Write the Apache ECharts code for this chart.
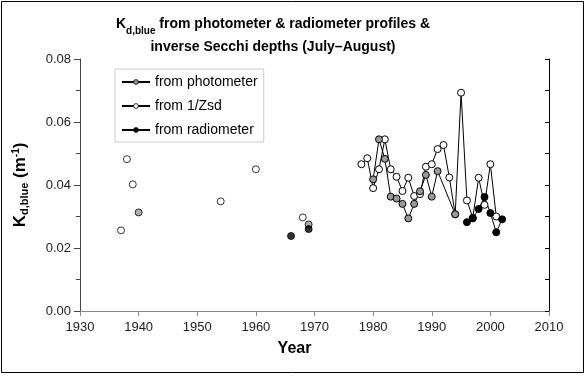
<!DOCTYPE html>
<html>
<head>
<meta charset="utf-8">
<script src="https://cdn.jsdelivr.net/npm/echarts@6/dist/echarts.min.js"></script>
<style>
html, body { margin: 0; padding: 0; background: #fff; }
#main { width: 587px; height: 378px; }
</style>
</head>
<body>
<div id="main"></div>
<script>
// values
var photoYears = [1980, 1981, 1982, 1983, 1984, 1985, 1986, 1987, 1988, 1989, 1990, 1991, 1994];
var photoVals = [0.0418, 0.0545, 0.0483, 0.0363, 0.0357, 0.0340, 0.0294, 0.0340, 0.0380, 0.0432, 0.0363, 0.0444, 0.0307];
var photoEarlyYears = [1940, 1969];
var photoEarlyVals = [0.0313, 0.0275];

var zsdYears = [1978, 1979, 1980, 1981, 1982, 1983, 1984, 1985, 1986, 1987, 1988, 1989,
                1990, 1991, 1992, 1993, 1994, 1995, 1996, 1997, 1998, 1999, 2000, 2001];
var zsdVals = [0.0466, 0.0485, 0.0390, 0.0450, 0.0545, 0.0450, 0.0426, 0.0381, 0.0423, 0.0365, 0.0371, 0.0458,
               0.0466, 0.0514, 0.0527, 0.0424, 0.0307, 0.0693, 0.0351, 0.0296, 0.0423, 0.0337, 0.0466, 0.0300];
var zsdEarlyYears = [1937, 1938, 1939, 1954, 1960, 1968];
var zsdEarlyVals = [0.0256, 0.0482, 0.0402, 0.0348, 0.0450, 0.0297];

var radioYears = [1996, 1997, 1998, 1999, 2000, 2001, 2002];
var radioVals = [0.0282, 0.0294, 0.0324, 0.0362, 0.0311, 0.0250, 0.0291];
var radioEarlyYears = [1966, 1969];
var radioEarlyVals = [0.0238, 0.0260];

var xTicks = [1930, 1940, 1950, 1960, 1970, 1980, 1990, 2000, 2010];
var yTicks = [0.00, 0.02, 0.04, 0.06, 0.08];

function pairs(xs, ys) {
    return xs.map(function (x, i) { return [x, ys[i]]; });
}

var font = 'Liberation Sans, Arial, sans-serif';

function lineSeries(name, xs, ys, fill) {
    return {
        name: name,
        type: 'line',
        data: pairs(xs, ys),
        symbol: 'circle',
        symbolSize: 7,
        showAllSymbol: true,
        lineStyle: {color: '#000', width: 1},
        itemStyle: {color: fill, borderColor: '#000', borderWidth: 1}
    };
}

function dotSeries(name, xs, ys, fill) {
    return {
        name: name,
        type: 'scatter',
        data: pairs(xs, ys),
        symbol: 'circle',
        symbolSize: 7,
        itemStyle: {color: fill, borderColor: '#000', borderWidth: 1}
    };
}

var myChart = echarts.init(document.getElementById('main'));
var option = {
    animation: false,
    textStyle: {fontFamily: font},
    title: {
        left: 268,
        textAlign: 'center',
        top: 8,
        text: '{b|K}{s|d,blue}{b| from photometer & radiometer profiles &}\n{b|inverse Secchi depths (July\u2013August)}',
        textStyle: {
            rich: {
                b: {fontSize: 14, fontWeight: 'bold', color: '#000', fontFamily: font, lineHeight: 23},
                s: {fontSize: 10, fontWeight: 'bold', color: '#000', fontFamily: font, verticalAlign: 'bottom', lineHeight: 23, padding: [6, 0, 0, 0]}
            }
        }
    },
    legend: {
        orient: 'vertical',
        left: 115,
        top: 69,
        data: ['from photometer', 'from 1/Zsd', 'from radiometer'],
        borderColor: '#ccc',
        borderWidth: 1,
        padding: [6, 6, 5, 6],
        itemWidth: 28,
        itemHeight: 6,
        itemGap: 10,
        itemStyle: {borderWidth: 0.8},
        textStyle: {fontSize: 14, color: '#000', fontFamily: font}
    },
    grid: {left: 80, right: 38, top: 59, bottom: 67},
    xAxis: [{
        type: 'value',
        min: 1930,
        max: 2010,
        interval: 10,
        name: 'Year',
        nameLocation: 'middle',
        nameGap: 30,
        nameTextStyle: {fontSize: 16, fontWeight: 'bold', color: '#000', padding: [0, 40, 0, 0]},
        axisLine: {lineStyle: {color: '#888'}},
        axisTick: {length: 5, lineStyle: {color: '#888'}},
        axisLabel: {fontSize: 13, color: '#222', margin: 10, formatter: function (v) { return xTicks.indexOf(v) >= 0 ? String(v) : ''; }},
        splitLine: {show: false}
    }, {
        type: 'value',
        position: 'top',
        min: 1930,
        max: 2010,
        axisLine: {show: true, lineStyle: {color: '#888'}},
        axisTick: {show: false},
        axisLabel: {show: false},
        splitLine: {show: false}
    }],
    yAxis: [{
        type: 'value',
        min: 0,
        max: 0.08,
        interval: 0.02,
        name: '{b|K}{s|d,blue}{b| (m}{p|-1}{b|)}',
        nameLocation: 'middle',
        nameRotate: 90,
        nameGap: 50,
        nameTextStyle: {
            rich: {
                b: {fontSize: 17, fontWeight: 'bold', color: '#000', fontFamily: font},
                s: {fontSize: 11, fontWeight: 'bold', color: '#000', fontFamily: font, padding: [8, 0, 0, 0]},
                p: {fontSize: 10, fontWeight: 'bold', color: '#000', fontFamily: font, padding: [0, 0, 8, 0]}
            }
        },
        axisLine: {show: true, lineStyle: {color: '#444'}},
        axisTick: {length: 6, lineStyle: {color: '#444'}},
        minorTick: {show: true, splitNumber: 2, length: 4, lineStyle: {color: '#444'}},
        axisLabel: {fontSize: 13, color: '#222', margin: 9, formatter: function (v) { return v.toFixed(2); }},
        splitLine: {show: false}
    }, {
        type: 'value',
        position: 'right',
        min: 0,
        max: 0.08,
        interval: 0.02,
        axisLine: {show: true, lineStyle: {color: '#000'}},
        axisTick: {show: true, inside: true, length: 4, lineStyle: {color: '#000'}},
        minorTick: {show: true, splitNumber: 2, length: 4, lineStyle: {color: '#000'}},
        axisLabel: {show: false},
        splitLine: {show: false}
    }],
    series: [
        lineSeries('from 1/Zsd', zsdYears, zsdVals, '#fff'),
        lineSeries('from photometer', photoYears, photoVals, '#999'),
        lineSeries('from radiometer', radioYears, radioVals, '#000'),
        dotSeries('from 1/Zsd', zsdEarlyYears, zsdEarlyVals, '#fff'),
        dotSeries('from photometer', photoEarlyYears, photoEarlyVals, '#999'),
        dotSeries('from radiometer', radioEarlyYears, radioEarlyVals, '#000')
    ],
    graphic: [{
        type: 'rect',
        shape: {x: 1.5, y: 1.5, width: 582, height: 371},
        style: {fill: null, stroke: '#000', lineWidth: 1},
        silent: true
    }]
};
myChart.setOption(option);
</script>
</body>
</html>
